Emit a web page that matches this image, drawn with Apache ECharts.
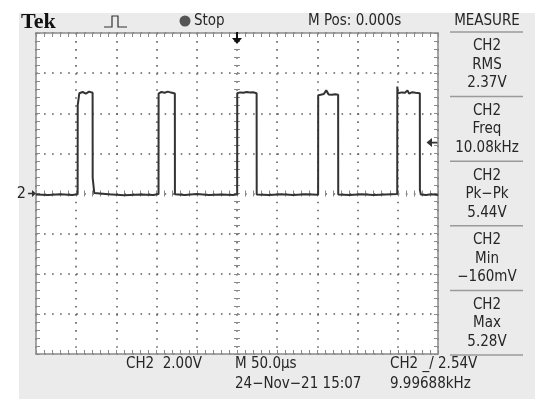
<!DOCTYPE html>
<html>
<head>
<meta charset="utf-8">
<script src="https://cdn.jsdelivr.net/npm/echarts@6/dist/echarts.min.js"></script>
<style>
  html, body { margin: 0; padding: 0; background: #fff; }
</style>
</head>
<body>
<div id="scope" style="width:550px;height:409px;"></div>
<script>
// time in microseconds (50 us/div, trigger at 0), CH2 volts (2 V/div)
const timeUs = [
  -250, -235, -220, -205, -198.2,
  -198.1, -196.2, -196.1, -192, -188, -184, -179.6,
  -179.5, -177.6, -177.5, -176, -160, -140, -120, -104, -97.6,
  -97.5, -94, -90, -86, -82, -77.3,
  -77.2, -65, -50, -35, -20, -5, 0.2,
  0.3, 4, 8, 12, 16, 20, 24.4,
  24.5, 40, 55, 70, 85, 100.9,
  101.0, 104, 108, 111, 114, 118, 122, 125.8,
  125.9, 140, 155, 170, 185, 199.3,
  199.4, 199.9, 200.0, 205, 209, 212, 214, 218, 222, 227.4,
  227.5, 228.6, 228.7, 235, 242, 250
];
const ch2Volts = [
  -0.05, -0.08, -0.04, -0.07, -0.04,
  4.40, 4.42, 5.00, 5.06, 4.98, 5.08, 5.02,
  0.78, 0.78, 0.02, -0.06, -0.04, -0.09, -0.05, -0.08, -0.03,
  4.98, 5.06, 5.02, 5.08, 5.03, 4.98,
  -0.04, -0.07, -0.03, -0.08, -0.05, -0.08, -0.04,
  5.00, 5.04, 5.02, 5.06, 5.03, 5.05, 5.00,
  -0.05, -0.07, -0.04, -0.08, -0.04, -0.06,
  4.90, 4.92, 4.96, 5.14, 4.94, 4.92, 4.95, 4.92,
  -0.05, -0.08, -0.04, -0.07, -0.05, -0.03,
  5.33, 5.33, 5.00, 5.04, 5.02, 5.14, 4.98, 5.05, 5.02, 5.00,
  0.17, 0.17, -0.05, -0.08, -0.04, -0.07
];

const triggerLevel = 2.54;
const measureNames = ['RMS', 'Freq', 'Pk\u2212Pk', 'Min', 'Max'];
const measureValues = ['2.37V', '10.08kHz', '5.44V', '\u2212160mV', '5.28V'];

const narrow = "'Liberation Sans Narrow', 'DejaVu Sans Condensed', sans-serif";
const ink = '#262626';
const gridGray = '#8a8a8a';

function txt(s, x, y, align, size) {
  return {
    type: 'text', x: x, y: y, z: 10,
    style: { text: s, fill: ink, fontSize: size || 15, fontFamily: narrow,
             align: align || 'left', verticalAlign: 'middle' }
  };
}
function hline(x1, x2, y) {
  return { type: 'line', z: 10, shape: { x1: x1, y1: y, x2: x2, y2: y },
           style: { stroke: '#9a9a9a', lineWidth: 1.5 } };
}

// right side measurement panel
let panel = [txt('MEASURE', 487, 21, 'center'), hline(450, 523, 32)];
for (let i = 0; i < measureNames.length; i++) {
  let top = 32 + i * 64.6;
  panel.push(txt('CH2', 487, top + 14.5, 'center'));
  panel.push(txt(measureNames[i], 487, top + 33, 'center'));
  panel.push(txt(measureValues[i], 487, top + 51.5, 'center'));
  panel.push(hline(450, 523, top + 64.6));
}

// border axes (frame with ticks), center axes (cross ticks)
function frameAxis(pos, dim, extra) {
  let a = {
    type: 'value', position: pos,
    min: dim === 'x' ? -250 : -8, max: dim === 'x' ? 250 : 8, interval: dim === 'x' ? 50 : 2,
    axisLine: { show: true, onZero: false, lineStyle: { color: gridGray, width: 1.5 } },
    axisTick: { show: true, inside: true, length: 4, lineStyle: { color: gridGray } },
    minorTick: { show: true, splitNumber: 5, length: 4, lineStyle: { color: gridGray } },
    axisLabel: { show: false },
    splitLine: { show: false }
  };
  return Object.assign(a, extra || {});
}

const arrowDown = 'path://M4,0 L6,0 L6,6 L10,6 L5,12 L0,6 L4,6 Z';
const arrowLeft = 'path://M0,5 L6,0 L6,4 L12,4 L12,6 L6,6 L6,10 Z';
const arrowRight = 'path://M12,5 L6,0 L6,4 L0,4 L0,6 L6,6 L6,10 Z';

let chart = echarts.init(document.getElementById('scope'));
chart.setOption({
  backgroundColor: '#ffffff',
  animation: false,
  grid: { left: 36, top: 33, width: 402, height: 321, show: true,
          backgroundColor: '#ffffff', borderWidth: 0 },
  xAxis: [
    frameAxis('bottom', 'x', {
      splitLine: { show: true, lineStyle: { color: '#5e5e5e', width: 1.6, type: [1.6, 6.43] } }
    }),
    frameAxis('top', 'x'),
    frameAxis('bottom', 'x', {
      offset: -157.5,
      axisLine: { show: false, onZero: false },
      axisTick: { show: true, inside: true, length: 6, lineStyle: { color: gridGray } },
      minorTick: { show: true, splitNumber: 5, length: 6, lineStyle: { color: gridGray } }
    })
  ],
  yAxis: [
    frameAxis('left', 'y', {
      splitLine: { show: true, lineStyle: { color: '#5e5e5e', width: 1.6, type: [1.6, 6.44] } }
    }),
    frameAxis('right', 'y'),
    frameAxis('left', 'y', {
      offset: -198,
      axisLine: { show: false, onZero: false },
      axisTick: { show: true, inside: true, length: 6, lineStyle: { color: gridGray } },
      minorTick: { show: true, splitNumber: 5, length: 6, lineStyle: { color: gridGray } }
    })
  ],
  series: [{
    type: 'line',
    xAxisIndex: 0, yAxisIndex: 0,
    data: timeUs.map((t, i) => [t, ch2Volts[i]]),
    showSymbol: false,
    clip: false,
    lineStyle: { color: '#333333', width: 2 },
    markPoint: {
      silent: true,
      data: [
        { coord: [0, 8], symbol: arrowDown, symbolSize: [10, 12], symbolOffset: [0, 5],
          itemStyle: { color: '#111' }, label: { show: false } },
        { coord: [250, triggerLevel], symbol: arrowLeft, symbolSize: [11, 9], symbolOffset: [-6, 0],
          itemStyle: { color: '#333' }, label: { show: false } },
        { coord: [-250, 0], symbol: arrowRight, symbolSize: [8, 7], symbolOffset: [-4, 0],
          itemStyle: { color: '#333' },
          label: { show: true, position: 'left', distance: 2, formatter: '2',
                   color: ink, fontSize: 16, fontFamily: narrow } }
      ]
    }
  }],
  graphic: [
    { type: 'rect', z: -100, shape: { x: 19, y: 13, width: 516, height: 386 },
      style: { fill: '#ebebeb' } },
    { type: 'text', x: 21, y: 22, z: 10,
      style: { text: 'Tek', fill: '#111', fontSize: 22, fontWeight: 'bold',
               fontFamily: "'Liberation Serif', serif", verticalAlign: 'middle' } },
    { type: 'polyline', z: 10,
      shape: { points: [[104, 27], [112, 27], [112, 16], [118, 16], [118, 27], [127, 27]] },
      style: { stroke: '#333', lineWidth: 1.2, fill: null } },
    { type: 'circle', z: 10, shape: { cx: 185, cy: 21, r: 5.5 }, style: { fill: '#555' } },
    txt('Stop', 194, 21),
    txt('M Pos: 0.000s', 308, 21),
    ...panel,
    txt('CH2  2.00V', 126, 364),
    txt('M 50.0\u00b5s', 235, 364),
    txt('24\u2212Nov\u221221 15:07', 235, 384),
    txt('CH2 _/ 2.54V', 390, 364),
    txt('9.99688kHz', 390, 384)
  ]
});
</script>
</body>
</html>
